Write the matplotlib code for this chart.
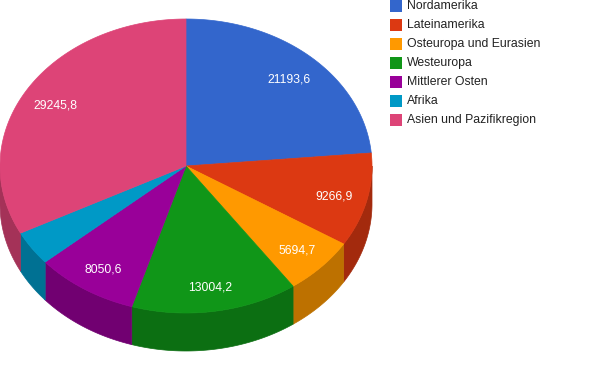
import numpy as np
import matplotlib
matplotlib.use("Agg")
import matplotlib.pyplot as plt
from matplotlib.colors import to_rgb

# ---- data ----
categories = ["Nordamerika", "Lateinamerika", "Osteuropa und Eurasien", "Westeuropa",
              "Mittlerer Osten", "Afrika", "Asien und Pazifikregion"]
values = [21193.6, 9266.9, 5694.7, 13004.2, 8050.6, 3400.0, 29245.8]
labels = ["21193,6", "9266,9", "5694,7", "13004,2", "8050,6", "", "29245,8"]
colors = ["#3366cc", "#dc3912", "#ff9900", "#109618", "#990099", "#0099c6", "#dd4477"]

# ---- layout (pixels) ----
W, H = 600, 371
cx, cy = 186.0, 166.0
rx, ry = 186.0, 147.0
depth = 38.0
wall_factor = 0.74

fig = plt.figure(figsize=(W / 100, H / 100), dpi=100)
ax = fig.add_axes([0, 0, 1, 1])
ax.set_xlim(0, W)
ax.set_ylim(H, 0)
ax.axis("off")
plt.rcParams["font.family"] = ["Liberation Sans", "DejaVu Sans"]


def pt(theta_deg, dy=0.0, r=1.0):
    t = np.radians(theta_deg)
    return cx + r * rx * np.sin(t), cy - r * ry * np.cos(t) + dy


total = float(sum(values))
angles = np.concatenate([[0.0], np.cumsum(values) / total * 360.0])

# walls (front half: 90..270 deg clockwise from top)
for i, c in enumerate(colors):
    a1, a2 = angles[i], angles[i + 1]
    lo, hi = max(a1, 90.0), min(a2, 270.0)
    if hi <= lo:
        continue
    th = np.linspace(lo, hi, 80)
    xs_t, ys_t = pt(th)
    xs_b, ys_b = pt(th[::-1], dy=depth)
    dark = tuple(v * wall_factor for v in to_rgb(c))
    ax.fill(np.concatenate([xs_t, xs_b]), np.concatenate([ys_t, ys_b]),
            facecolor=dark, edgecolor=dark, linewidth=0.5, zorder=1)

# top faces
for i, c in enumerate(colors):
    a1, a2 = angles[i], angles[i + 1]
    th = np.linspace(a1, a2, max(int((a2 - a1) * 2), 4))
    xs, ys = pt(th)
    ax.fill(np.concatenate([[cx], xs]), np.concatenate([[cy], ys]),
            facecolor=c, edgecolor=c, linewidth=0.5, zorder=2)

# slice labels
for i, lab in enumerate(labels):
    if not lab:
        continue
    mid = (angles[i] + angles[i + 1]) / 2.0
    t = np.radians(mid)
    x = cx + 0.82 * rx * np.sin(t)
    y = cy + 2 - 0.82 * ry * np.cos(t)
    ax.text(x, y, lab, color="white", fontsize=8.8, ha="center", va="center", zorder=3)

# legend
lx, ly0, step, sq = 390, 6, 19, 12
for i, (name, c) in enumerate(zip(categories, colors)):
    y = ly0 + i * step
    ax.add_patch(plt.Rectangle((lx, y - sq / 2), sq, sq, facecolor=c, edgecolor="none", zorder=3))
    ax.text(lx + 17, y, name, color="#222222", fontsize=8.8, ha="left", va="center", zorder=3)

fig.savefig("out.png", dpi=100)
